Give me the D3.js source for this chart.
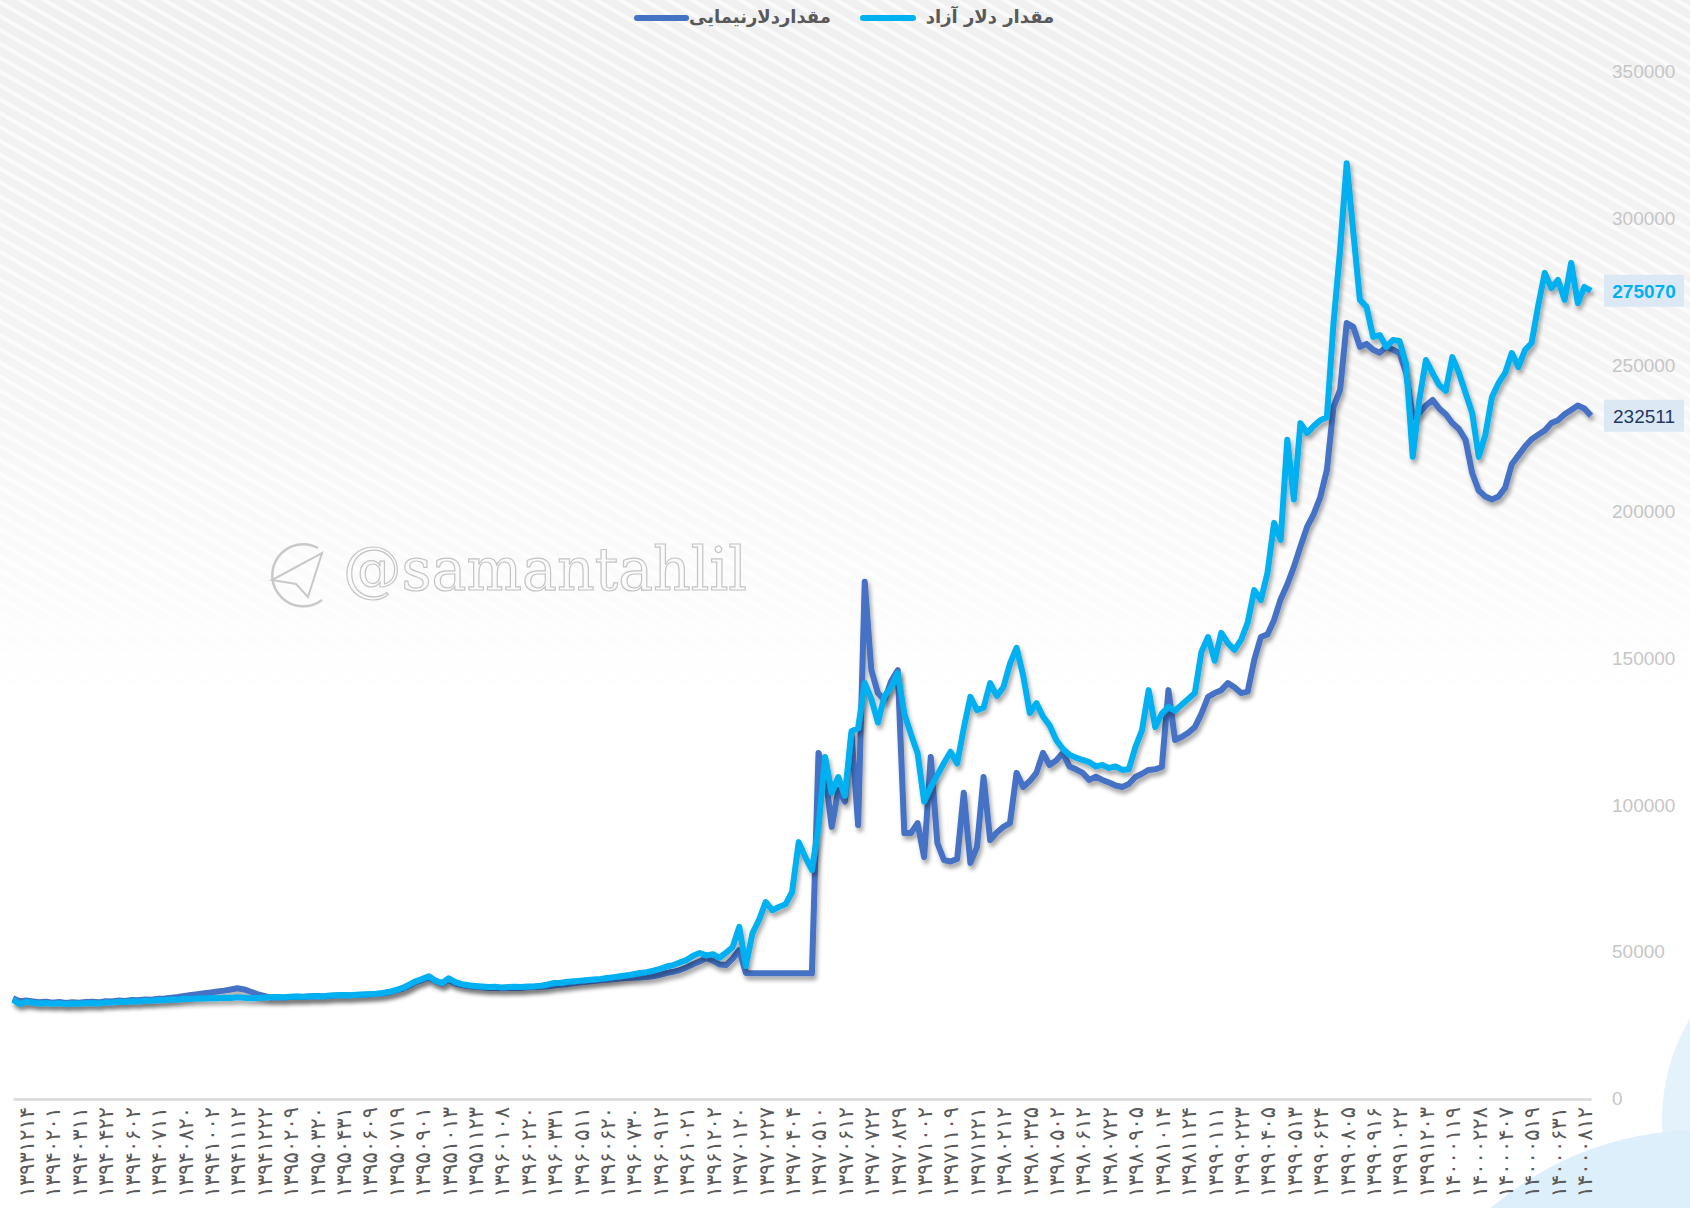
<!DOCTYPE html>
<html>
<head>
    <meta charset="UTF-8">
    <title>دلار آزاد و نیمایی</title>
    <style type="text/css">
        html, body {
            margin: 0;
            padding: 0;
            background: #ffffff;
        }

        #chart {
            width: 1690px;
            height: 1208px;
            overflow: hidden;
        }
    </style>
</head>
<body>
    <div id="chart"></div>
    <script src="https://d3js.org/d3.v7.min.js"></script>
    <script>
        var tickLabels = [
            "۱۳۹۳۱۲۱۴", "۱۳۹۴۰۲۰۱", "۱۳۹۴۰۳۱۱", "۱۳۹۴۰۴۲۲", "۱۳۹۴۰۶۰۲", "۱۳۹۴۰۷۱۱", "۱۳۹۴۰۸۲۰", "۱۳۹۴۱۰۰۲",
            "۱۳۹۴۱۱۱۲", "۱۳۹۴۱۲۲۲", "۱۳۹۵۰۲۰۹", "۱۳۹۵۰۳۲۰", "۱۳۹۵۰۴۳۱", "۱۳۹۵۰۶۰۹", "۱۳۹۵۰۷۱۹", "۱۳۹۵۰۹۰۱",
            "۱۳۹۵۱۰۱۳", "۱۳۹۵۱۱۲۳", "۱۳۹۶۰۱۰۸", "۱۳۹۶۰۲۲۰", "۱۳۹۶۰۳۳۱", "۱۳۹۶۰۵۱۱", "۱۳۹۶۰۶۲۰", "۱۳۹۶۰۷۳۰",
            "۱۳۹۶۰۹۱۲", "۱۳۹۶۱۰۲۱", "۱۳۹۶۱۲۰۲", "۱۳۹۷۰۱۲۰", "۱۳۹۷۰۲۲۷", "۱۳۹۷۰۴۰۴", "۱۳۹۷۰۵۱۰", "۱۳۹۷۰۶۱۲",
            "۱۳۹۷۰۷۲۲", "۱۳۹۷۰۸۲۹", "۱۳۹۷۱۰۰۲", "۱۳۹۷۱۱۰۹", "۱۳۹۷۱۲۲۱", "۱۳۹۸۰۲۱۲", "۱۳۹۸۰۳۲۵", "۱۳۹۸۰۵۰۲",
            "۱۳۹۸۰۶۱۲", "۱۳۹۸۰۷۲۲", "۱۳۹۸۰۹۰۵", "۱۳۹۸۱۰۱۴", "۱۳۹۸۱۱۲۴", "۱۳۹۹۰۱۱۱", "۱۳۹۹۰۲۲۳", "۱۳۹۹۰۴۰۵",
            "۱۳۹۹۰۵۱۳", "۱۳۹۹۰۶۲۴", "۱۳۹۹۰۸۰۵", "۱۳۹۹۰۹۱۶", "۱۳۹۹۱۰۲۲", "۱۳۹۹۱۲۰۳", "۱۴۰۰۰۱۱۹", "۱۴۰۰۰۲۲۸",
            "۱۴۰۰۰۴۰۷", "۱۴۰۰۰۵۱۹", "۱۴۰۰۰۶۳۱", "۱۴۰۰۰۸۱۲"
        ];

        var yTicks = [0, 50000, 100000, 150000, 200000, 250000, 300000, 350000];

        var seriesNames = ["مقداردلارنیمایی", "مقدار دلار آزاد"];

        // دلار آزاد
        var freeRate = [
            33500, 32000, 32800, 32500, 32200, 32400, 32100, 32300, 32000, 32200,
            32100, 32300, 32400, 32200, 32600, 32500, 32800, 32700, 33000, 32900,
            33200, 33100, 33400, 33300, 33600, 33500, 33800, 33700, 34000, 33900,
            34100, 34000, 34200, 34100, 34300, 34200, 34000, 34100, 34200, 34300,
            34400, 34300, 34500, 34600, 34500, 34700, 34800, 34700, 34900, 35000,
            35100, 35000, 35200, 35300, 35400, 35500, 35800, 36200, 36800, 37500,
            38600, 39800, 40600, 41500, 40000, 39200, 40800, 39500, 38800, 38400,
            38200, 38000, 37800, 37900, 37700, 37800, 37900, 37800, 38000, 38100,
            38300, 38700, 39200, 39300, 39600, 39800, 40000, 40200, 40400, 40600,
            40900, 41200, 41500, 41800, 42200, 42600, 42900, 43400, 44000, 44800,
            45300, 46200, 47000, 48500, 49400, 48600, 49000, 47800, 49500, 51500,
            58300, 45000, 56200, 60700, 66800, 64000, 65100, 66000, 70200, 87200,
            82100, 77700, 92400, 116200, 104000, 109400, 103000, 125000, 126000, 141400,
            136000, 128000, 137000, 140000, 144800, 131000, 124000, 117600, 101000, 106000,
            110000, 114200, 118000, 114000, 126000, 136700, 132200, 133000, 141400, 137000,
            140000, 148000, 153400, 144000, 131200, 134600, 130000, 127000, 122000, 119000,
            117000, 116000, 115200, 114500, 113000, 113500, 112500, 113000, 111800, 112000,
            119600, 125400, 139000, 126400, 131000, 133300, 132000, 134000, 136000, 138000,
            152000, 157100, 149000, 158500, 155000, 152700, 156100, 162000, 173100, 169700,
            178900, 196000, 190200, 224300, 204000, 230000, 226600, 229000, 231000, 232000,
            264000, 289000, 318600, 295000, 272000, 269600, 259400, 260000, 256000, 258300,
            258000, 250000, 218500, 238000, 251500, 247100, 243000, 241000, 252500, 247100,
            240300, 233500, 218500, 226000, 238900, 243700, 247100, 253900, 249100, 254900,
            257300, 270000, 281200, 276000, 278800, 272000, 284600, 270900, 276400, 275070
        ];

        // دلار نیمایی
        var nimaRate = [
            34000, 33000, 33200, 32900, 32600, 32800, 32500, 32700, 32400, 32600,
            32500, 32700, 32800, 32600, 33000, 32900, 33200, 33100, 33400, 33300,
            33600, 33500, 33800, 33900, 34200, 34400, 34800, 35100, 35400, 35700,
            36000, 36300, 36600, 37000, 37400, 37000, 36200, 35400, 34800, 34200,
            34300, 34200, 34400, 34500, 34400, 34600, 34700, 34600, 34800, 34900,
            35000, 34900, 35100, 35200, 35300, 35400, 35600, 36000, 36600, 37200,
            38200, 39500, 40200, 41000, 39800, 39000, 40200, 39000, 38500, 38100,
            37900, 37700, 37500, 37600, 37400, 37500, 37600, 37500, 37700, 37800,
            37900, 38000, 38300, 38600, 38800, 39100, 39400, 39600, 39900, 40100,
            40300, 40500, 40700, 40900, 41000, 41100, 41200, 41500, 42000, 42600,
            43000, 43600, 44500, 45600, 46500, 47700, 46800, 45500, 45300, 47500,
            50400, 42600, 42500, 42500, 42500, 42500, 42500, 42500, 42500, 42500,
            42500, 42500, 117600, 110800, 92400, 105000, 101000, 124000, 93000, 175900,
            145800, 138000, 135600, 142000, 145800, 90300, 90300, 93700, 82100, 116200,
            86900, 81100, 80600, 81500, 104000, 80100, 85500, 109400, 87900, 90500,
            92400, 93700, 110800, 106000, 108000, 110800, 117600, 113500, 115000, 117600,
            113000, 112000, 110800, 108400, 109500, 108400, 107500, 106500, 106000, 107000,
            109400, 110500, 111800, 112000, 112800, 139000, 122000, 123000, 124500, 126400,
            131000, 136700, 138000, 139000, 141400, 140000, 138000, 138500, 149300, 157100,
            158000, 162900, 170000, 175000, 181000, 188000, 194600, 199000, 204800, 214000,
            235500, 241300, 264100, 262800, 256000, 257000, 255000, 254000, 256000, 255000,
            253900, 247100, 232000, 233500, 236000, 237900, 235000, 233000, 230000, 228000,
            224300, 213000, 207000, 205000, 204000, 205000, 208000, 216000, 219000, 222000,
            224500, 226000, 227500, 230000, 231000, 233000, 234500, 236000, 235000, 232511
        ];

        var W = 1690, H = 1208;

        var svg = d3.select("#chart").append("svg")
            .attr("width", W)
            .attr("height", H)
            .style("font-family", "'Liberation Sans', sans-serif");

        var defs = svg.append("defs");

        var pat = defs.append("pattern")
            .attr("id", "stripes")
            .attr("patternUnits", "userSpaceOnUse")
            .attr("width", 12)
            .attr("height", 12)
            .attr("patternTransform", "rotate(30)");
        pat.append("rect").attr("width", 12).attr("height", 12).attr("fill", "#f0f0f0");
        pat.append("rect").attr("width", 12).attr("height", 4).attr("fill", "#fafafa");

        var fade = defs.append("linearGradient")
            .attr("id", "fade")
            .attr("x1", 0).attr("y1", 0).attr("x2", 0).attr("y2", 1);
        fade.append("stop").attr("offset", "0").attr("stop-color", "#fff").attr("stop-opacity", 1);
        fade.append("stop").attr("offset", "0.3").attr("stop-color", "#fff").attr("stop-opacity", 0.7);
        fade.append("stop").attr("offset", "0.58").attr("stop-color", "#fff").attr("stop-opacity", 0);
        var mask = defs.append("mask").attr("id", "fadeMask");
        mask.append("rect").attr("width", W).attr("height", H).attr("fill", "url(#fade)");

        var shadow = defs.append("filter")
            .attr("id", "shadow")
            .attr("x", "-5%").attr("y", "-5%")
            .attr("width", "110%").attr("height", "115%");
        shadow.append("feDropShadow")
            .attr("dx", 2).attr("dy", 4)
            .attr("stdDeviation", 2.2)
            .attr("flood-color", "#000")
            .attr("flood-opacity", 0.35);

        svg.append("rect").attr("width", W).attr("height", H).attr("fill", "#ffffff");
        svg.append("rect").attr("width", W).attr("height", H)
            .attr("fill", "url(#stripes)")
            .attr("mask", "url(#fadeMask)");

        // light blue shapes bottom right
        svg.append("circle").attr("cx", 1860).attr("cy", 1120).attr("r", 198).attr("fill", "#e4f2fc");
        svg.append("circle").attr("cx", 1700).attr("cy", 1450).attr("r", 320).attr("fill", "#ddeffb");

        // watermark
        var wm = svg.append("g").attr("fill", "none").attr("stroke", "#c9c9c9");
        wm.append("path")
            .attr("d", "M318,548 A31,31 0 1,0 322,600")
            .attr("stroke-width", 2.5);
        wm.append("path")
            .attr("d", "M272,580 L322,553 L308,597 L296,584 Z")
            .attr("stroke-width", 2);
        svg.append("text")
            .attr("x", 343)
            .attr("y", 590)
            .attr("textLength", 404)
            .attr("lengthAdjust", "spacingAndGlyphs")
            .style("font-family", "'DejaVu Serif', serif")
            .style("font-size", "60px")
            .attr("fill", "#fbfbfb")
            .attr("stroke", "#c4c4c4")
            .attr("stroke-width", 1.2)
            .text("@samantahlil");

        var x = d3.scaleLinear().domain([0, freeRate.length - 1]).range([13, 1591]);
        var y = d3.scaleLinear().domain([0, 350000]).range([1098, 71]);

        // y axis on the right
        var yAxis = svg.append("g")
            .attr("transform", "translate(1612,0)")
            .call(d3.axisRight(y).tickValues(yTicks).tickSize(0).tickPadding(0).tickFormat(d3.format("d")));
        yAxis.select(".domain").remove();
        yAxis.selectAll("text")
            .attr("fill", "#c6c6c6")
            .attr("dy", "0.35em")
            .style("font-size", "19px")
            .style("font-family", "'Liberation Sans', sans-serif");

        // x axis
        var tickIdx = tickLabels.map(function (d, k) { return 2 + 4 * k; });
        var xAxis = svg.append("g")
            .attr("transform", "translate(0,1099)")
            .call(d3.axisBottom(x).tickValues(tickIdx).tickSize(0)
                .tickFormat(function (d, k) { return tickLabels[k]; }));
        xAxis.select(".domain")
            .attr("stroke", "#d9d9d9")
            .attr("stroke-width", 2.5);
        xAxis.selectAll("text")
            .attr("transform", "rotate(-90)")
            .attr("text-anchor", "end")
            .attr("x", -8)
            .attr("y", 0)
            .attr("dy", "0.35em")
            .attr("fill", "#5a5a5a")
            .style("font-size", "21px")
            .style("letter-spacing", "5px")
            .style("font-family", "'DejaVu Sans', sans-serif");

        var line = d3.line()
            .x(function (d, i) { return x(i); })
            .y(function (d) { return y(d); });

        svg.append("path")
            .datum(nimaRate)
            .attr("d", line)
            .attr("fill", "none")
            .attr("stroke", "#4472c4")
            .attr("stroke-width", 6)
            .attr("stroke-linejoin", "round")
            .attr("filter", "url(#shadow)");

        svg.append("path")
            .datum(freeRate)
            .attr("d", line)
            .attr("fill", "none")
            .attr("stroke", "#00b0f0")
            .attr("stroke-width", 6)
            .attr("stroke-linejoin", "round")
            .attr("filter", "url(#shadow)");

        // last value labels
        var endLabels = [
            { v: freeRate[freeRate.length - 1], color: "#00b0f0", weight: "bold" },
            { v: nimaRate[nimaRate.length - 1], color: "#1f3864", weight: "normal" }
        ];
        var el = svg.selectAll("g.endlabel").data(endLabels).enter()
            .append("g").attr("class", "endlabel")
            .attr("transform", function (d) { return "translate(1604," + y(d.v) + ")"; });
        el.append("rect")
            .attr("x", 0).attr("y", -16)
            .attr("width", 80).attr("height", 32)
            .attr("fill", "#dce9f5");
        el.append("text")
            .attr("x", 40).attr("y", 0)
            .attr("dy", "0.36em")
            .attr("text-anchor", "middle")
            .attr("fill", function (d) { return d.color; })
            .style("font-weight", function (d) { return d.weight; })
            .style("font-size", "19px")
            .text(function (d) { return d.v; });

        // legend
        var legend = [
            { name: seriesNames[0], color: "#4472c4", x1: 637, x2: 686, tx: 760 },
            { name: seriesNames[1], color: "#00b0f0", x1: 863, x2: 913, tx: 990 }
        ];
        var lg = svg.selectAll("g.legend").data(legend).enter().append("g").attr("class", "legend");
        lg.append("line")
            .attr("x1", function (d) { return d.x1; })
            .attr("x2", function (d) { return d.x2; })
            .attr("y1", 18).attr("y2", 18)
            .attr("stroke", function (d) { return d.color; })
            .attr("stroke-width", 6)
            .attr("stroke-linecap", "round");
        lg.append("text")
            .attr("x", function (d) { return d.tx; })
            .attr("y", 18)
            .attr("dy", "0.3em")
            .attr("text-anchor", "middle")
            .attr("fill", "#595959")
            .style("font-family", "'DejaVu Sans', sans-serif")
            .style("font-weight", "bold")
            .style("font-size", "18px")
            .text(function (d) { return d.name; });
    </script>
</body>
</html>
